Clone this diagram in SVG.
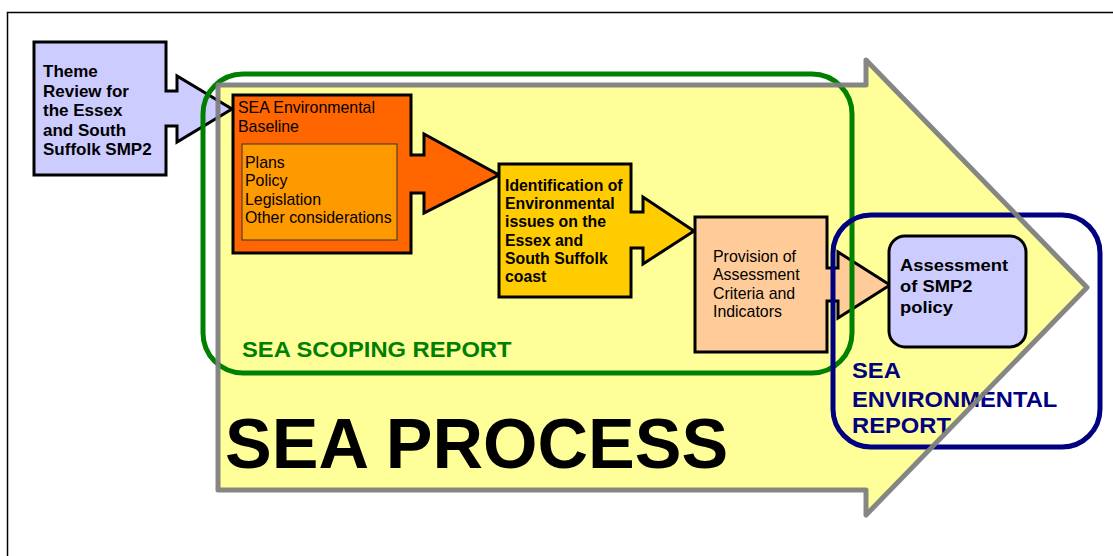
<svg xmlns="http://www.w3.org/2000/svg" width="1113" height="556" viewBox="0 0 1113 556">
<style>
text{font-family:"Liberation Sans",Arial,sans-serif;fill:#000}
.b{font-weight:bold}
.n{font-size:15.9px}
.box{stroke:#000;stroke-width:3;stroke-linejoin:miter}
</style>
<rect x="7.5" y="12.5" width="1115" height="555" fill="#fff" stroke="#000" stroke-width="1.5"/>
<g id="sea-process">
<path d="M218,85 H866 V60 L1087,287.5 L866,515 V490 H218 Z" fill="#FFFF99"/>
<text x="225" y="468" class="b" style="font-size:70px">SEA PROCESS</text>
</g>
<g id="theme">
<path class="box" d="M34,42 H166 V91 H177 V76 L232,109 L177,142 V126 H166 V175 H34 Z" fill="#CCCCFF"/>
<text class="b" style="font-size:17px"><tspan x="43" y="77">Theme</tspan><tspan x="43" y="96.5">Review for</tspan><tspan x="43" y="116">the Essex</tspan><tspan x="43" y="135.5">and South</tspan><tspan x="43" y="155">Suffolk SMP2</tspan></text>
</g>
<g id="baseline">
<path class="box" d="M233,95 H411 V155 H424 V134 L499,175 L424,213 V193 H411 V253 H233 Z" fill="#FF6600"/>
<text class="n"><tspan x="238" y="113">SEA Environmental</tspan><tspan x="238" y="132">Baseline</tspan></text>
<rect x="242" y="144" width="155" height="96" fill="#FF9900" stroke="#333" stroke-width="1"/>
<text class="n"><tspan x="245" y="168">Plans</tspan><tspan x="245" y="186">Policy</tspan><tspan x="245" y="204.5">Legislation</tspan><tspan x="245" y="223">Other considerations</tspan></text>
</g>
<g id="identification">
<path class="box" d="M499,164 H631 V212 H643 V197 L694,231 L643,264 V248 H631 V297 H499 Z" fill="#FFCC00"/>
<text class="b" style="font-size:15.8px"><tspan x="505" y="191">Identification of</tspan><tspan x="505" y="209">Environmental</tspan><tspan x="505" y="227">issues on the</tspan><tspan x="505" y="245.5">Essex and</tspan><tspan x="505" y="263.5">South Suffolk</tspan><tspan x="505" y="282">coast</tspan></text>
</g>
<g id="provision">
<path class="box" d="M695,217 H827 V268 H838 V252 L890,285 L838,318 V301 H827 V352 H695 Z" fill="#FFCC99"/>
<text class="n"><tspan x="713" y="262">Provision of</tspan><tspan x="713" y="280">Assessment</tspan><tspan x="713" y="298.5">Criteria and</tspan><tspan x="713" y="317">Indicators</tspan></text>
</g>
<g id="assessment">
<rect x="889" y="236" width="137" height="111" rx="16" fill="#CCCCFF" stroke="#000" stroke-width="3"/>
<text class="b" style="font-size:17px" transform="translate(900,0) scale(1.08,1)"><tspan x="0" y="271">Assessment</tspan><tspan x="0" y="292">of SMP2</tspan><tspan x="0" y="313">policy</tspan></text>
</g>
<g id="scoping-report">
<rect x="203" y="74" width="649" height="299" rx="40" fill="none" stroke="#008000" stroke-width="5"/>
<text class="b" style="font-size:22px;fill:#008000" transform="translate(242,0) scale(1.08,1)" x="0" y="357">SEA SCOPING REPORT</text>
</g>
<g id="environmental-report">
<rect x="833" y="215" width="267" height="232" rx="38" fill="none" stroke="#000080" stroke-width="5"/>
<text class="b" style="font-size:22px;fill:#000080" transform="translate(852,0) scale(1.08,1)"><tspan x="0" y="378">SEA</tspan><tspan x="0" y="407">ENVIRONMENTAL</tspan><tspan x="0" y="433">REPORT</tspan></text>
</g>
<g id="connectors">
<path d="M218,85 H866 V60 L1087,287.5 L866,515 V490 H218 Z" fill="none" stroke="#808080" stroke-width="5" stroke-linejoin="round" stroke-opacity="0.95"/>
</g>
</svg>
